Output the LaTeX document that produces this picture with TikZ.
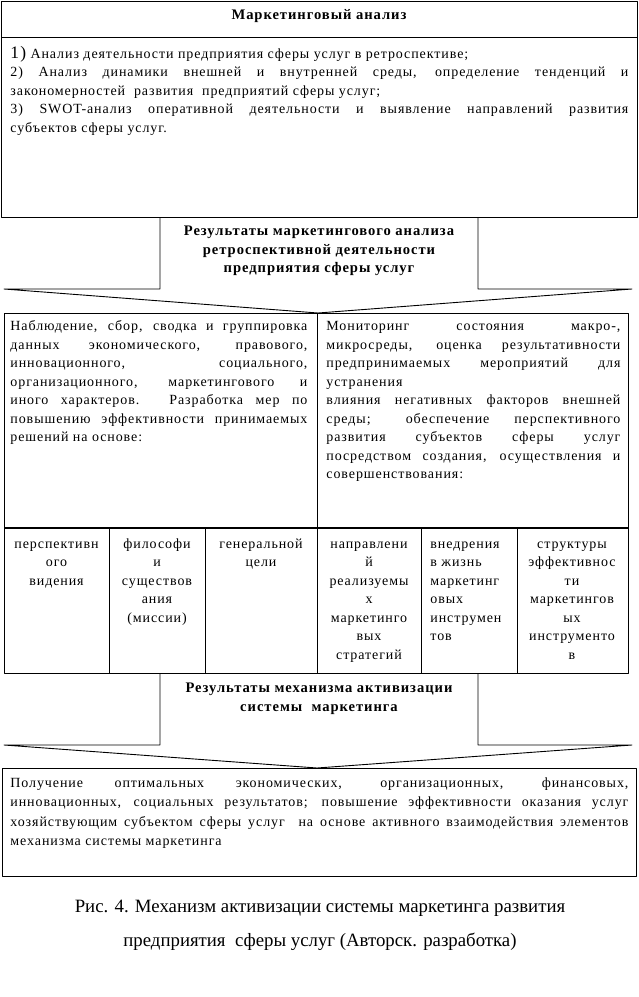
\documentclass[tikz,border=0pt]{standalone}
\usepackage{fontspec}
\setmainfont{Liberation Serif}[LetterSpace=6.5]
\newfontfamily\capfont{Liberation Serif}
\newcommand\body{\fontsize{14}{18.5}\selectfont}
\newcommand\bbody{\fontsize{14.6}{18.5}\selectfont\bfseries}
\newcommand\jl[1]{\makebox[\linewidth][s]{#1}}
\begin{document}
\begin{tikzpicture}[x=1pt,y=-1pt,line width=0.9pt,line join=round,
  frame/.style={draw,inner sep=0pt,anchor=north west},
  lbl/.style={anchor=base west,inner sep=0pt},
  ctr/.style={anchor=base,inner sep=0pt},
  thick sep/.style={line width=2pt}]
\useasboundingbox[fill=white] (0,0) rectangle (639,997);

% top box
\node[frame,minimum width=636pt,minimum height=216pt] (topbox) at (1,1) {};
\coordinate (tl) at (1,37);
\coordinate (tr) at (637,37);
\draw (tl) -- (tr);
\node[ctr] (toptitle) at (319,19.5) {\bbody Маркетинговый анализ};
\node[lbl] (toptext) at (10,58) {\parbox[t]{618pt}{\body
{\fontsize{17.5}{18.5}\selectfont 1)} Анализ деятельности предприятия сферы услуг в ретроспективе;\\
\jl{2) Анализ динамики внешней и внутренней среды, определение тенденций и}\\
закономерностей\ \ развития\ \ предприятий сферы услуг;\\
\jl{3) SWOT-анализ оперативной деятельности и выявление направлений развития}\\
субъектов сферы услуг.}};

% arrow 1
\coordinate (a1l) at (160,217);
\coordinate (a1r) at (478,217);
\coordinate (a1tip) at (318,313);
\draw (a1l) -- (160,289) -- (4,289) -- (a1tip) -- (632,289) -- (478,289) -- (a1r);
\node[ctr] (a1text) at (319,235.5) {\parbox[t]{320pt}{\centering\bbody
Результаты маркетингового анализа\\ретроспективной деятельности\\предприятия сферы услуг}};

% middle box
\node[frame,minimum width=624pt,minimum height=360pt] (midbox) at (4,313) {};
\coordinate (msl) at (4,528);
\coordinate (msr) at (628,528);
\draw[thick sep] (msl) -- (msr);
\coordinate (mdt) at (317,313);
\coordinate (mdb) at (317,673);
\draw (mdt) -- (mdb);
\foreach \xx/\nm in {109/c1,205/c2,421/c4,517/c5}{
  \coordinate (\nm t) at (\xx,528);
  \coordinate (\nm b) at (\xx,673);
  \draw (\nm t) -- (\nm b);
}
\node[lbl] (midleft) at (10,330.5) {\parbox[t]{297pt}{\body
\jl{Наблюдение, сбор, сводка и группировка}\\
\jl{данных экономического, правового,}\\
\jl{инновационного, социального,}\\
\jl{организационного, маркетингового и}\\
\jl{иного характеров. Разработка мер по}\\
\jl{повышению эффективности принимаемых}\\
решений на основе:}};
\node[lbl] (midright) at (326,330.5) {\parbox[t]{294pt}{\body
\jl{Мониторинг состояния макро-,}\\
\jl{микросреды, оценка результативности}\\
\jl{предпринимаемых мероприятий для}\\
устранения\\
\jl{влияния негативных факторов внешней}\\
\jl{среды; обеспечение перспективного}\\
\jl{развития субъектов сферы услуг}\\
\jl{посредством создания, осуществления и}\\
совершенствования:}};

% cells
\node[ctr] (cell1) at (56.5,548) {\parbox[t]{100pt}{\centering\body перспективн\\ого\\видения}};
\node[ctr] (cell2) at (157,548) {\parbox[t]{92pt}{\centering\body философи\\и\\существов\\ания\\(миссии)}};
\node[ctr] (cell3) at (261,548) {\parbox[t]{108pt}{\centering\body генеральной\\цели}};
\node[ctr] (cell4) at (369,548) {\parbox[t]{100pt}{\centering\body направлени\\й\\реализуемы\\х\\маркетинго\\вых\\стратегий}};
\node[lbl] (cell5) at (430,548) {\parbox[t]{88pt}{\raggedright\body внедрения\\в жизнь\\маркетинг\\овых\\инструмен\\тов}};
\node[ctr] (cell6) at (572,548) {\parbox[t]{108pt}{\centering\body структуры\\эффективнос\\ти\\маркетингов\\ых\\инструменто\\в}};

% arrow 2
\coordinate (a2l) at (160,673);
\coordinate (a2r) at (478,673);
\coordinate (a2tip) at (317,768);
\draw (a2l) -- (160,745) -- (4,745) -- (a2tip) -- (632,745) -- (478,745) -- (a2r);
\node[ctr] (a2text) at (319,692.5) {\parbox[t]{320pt}{\centering\bbody
Результаты механизма активизации\\системы\ \ маркетинга}};

% bottom box
\node[frame,minimum width=634pt,minimum height=108pt] (botbox) at (2,768) {};
\node[lbl] (bottext) at (10,787.5) {\parbox[t]{618pt}{\fontsize{14}{19.3}\selectfont
\jl{Получение оптимальных экономических, организационных, финансовых,}\\
\jl{инновационных, социальных результатов; повышение эффективности оказания услуг}\\
\jl{хозяйствующим субъектом сферы услуг\ \ на основе активного взаимодействия элементов}\\
механизма системы маркетинга}};

% caption
\node[ctr] (cap1) at (320,912) {\capfont\fontsize{18.8}{20}\selectfont Рис. 4. Механизм активизации системы маркетинга развития};
\node[ctr] (cap2) at (320,946) {\capfont\fontsize{18.8}{20}\selectfont предприятия\ \ сферы услуг (Авторск. разработка)};
\end{tikzpicture}
\end{document}
